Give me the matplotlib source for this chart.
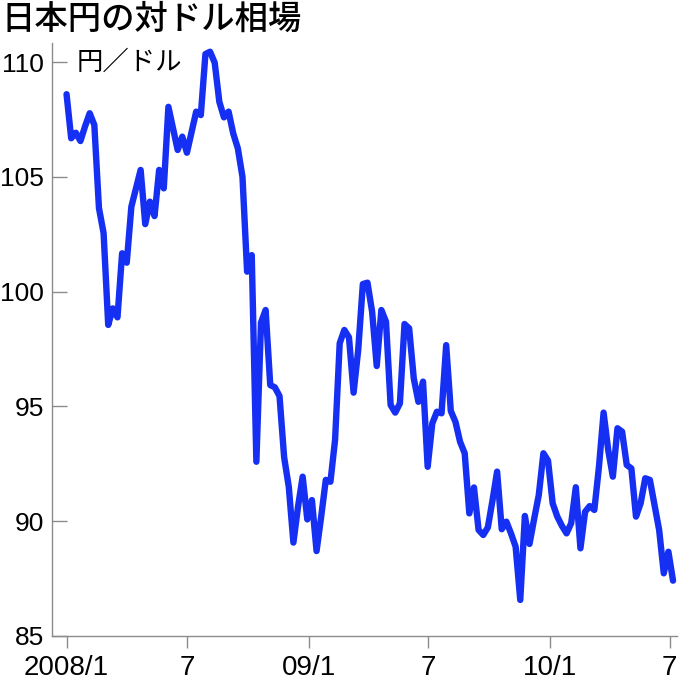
import matplotlib
matplotlib.use("Agg")
import matplotlib.pyplot as plt
import pandas as pd

# weekly yen per dollar
start_date = "2008-01-01"
yen_per_dollar = [
    108.6, 106.68, 106.92, 106.56, 107.2, 107.77, 107.26, 103.64, 102.55, 98.55,
    99.27, 98.88, 101.67, 101.26, 103.70, 104.5, 105.30, 102.94, 103.92, 103.29,
    105.30, 104.50, 108.05, 107.1, 106.17, 106.75, 106.05, 106.95, 107.84, 107.69,
    110.35, 110.45, 109.97, 108.27, 107.59, 107.84, 106.89, 106.24, 105.0, 100.87,
    101.59, 92.59, 98.65, 99.2, 95.93, 95.83, 95.45, 92.78, 91.5, 89.07,
    90.63, 91.94, 90.08, 90.92, 88.7, 90.2, 91.8, 91.72, 93.54, 97.75,
    98.33, 98.01, 95.6, 97.46, 100.33, 100.39, 99.13, 96.76, 99.2, 98.69,
    95.06, 94.73, 95.13, 98.59, 98.40, 96.22, 95.2, 96.08, 92.37, 94.26,
    94.77, 94.70, 97.67, 94.8, 94.33, 93.46, 92.96, 90.34, 91.47, 89.62,
    89.4, 89.73, 90.9, 92.16, 89.65, 89.98, 89.47, 88.89, 86.57, 90.23,
    89.01, 90.1, 91.14, 92.96, 92.64, 90.78, 90.2, 89.8, 89.47, 89.91,
    91.48, 88.82, 90.41, 90.66, 90.49, 92.37, 94.73, 93.1, 91.94, 94.05,
    93.90, 92.45, 92.30, 90.2, 90.78, 91.87, 91.8, 90.7, 89.62, 87.73,
    88.67, 87.41,
]
weeks = pd.date_range(start_date, periods=len(yen_per_dollar), freq="7D")

tick_dates = ["2008-01-01", "2008-07-01", "2009-01-01", "2009-07-01", "2010-01-01", "2010-07-01"]
tick_labels = ["2008/1", "7", "09/1", "7", "10/1", "7"]
y_ticks = [85, 90, 95, 100, 105, 110]

title = "日本円の対ドル相場"
unit = "円／ドル"

num_font = ["Liberation Sans Narrow", "Liberation Sans", "DejaVu Sans"]
jp_font = ["Noto Sans CJK JP", "DejaVu Sans"]
grey = "#8c8c8c"

fig = plt.figure(figsize=(6.8, 6.8), dpi=100)
# axes box in pixels: left 52, right 677, top 43, bottom 636
ax = fig.add_axes([52 / 680, 44 / 680, 625 / 680, 593 / 680])

ax.plot(weeks, yen_per_dollar, color="#1530f2", linewidth=4.6,
        solid_joinstyle="round", solid_capstyle="round", clip_on=False, zorder=3)

ax.set_xlim(pd.Timestamp("2007-12-10"), pd.Timestamp("2010-07-12"))
ax.set_ylim(85, 110.83)

ax.set_xticks([pd.Timestamp(d) for d in tick_dates])
ax.set_xticklabels(tick_labels)
ax.set_yticks(y_ticks)
ax.set_yticklabels([str(v) for v in y_ticks])

for s in ["top", "right"]:
    ax.spines[s].set_visible(False)
for s in ["left", "bottom"]:
    ax.spines[s].set_color(grey)
    ax.spines[s].set_linewidth(1.0)

ax.tick_params(axis="y", direction="in", length=11, width=1.0, color=grey,
               pad=6, labelsize=19, labelcolor="black")
ax.tick_params(axis="x", direction="out", length=8.6, width=1.0, color=grey,
               pad=5, labelsize=20, labelcolor="black")
for lab in ax.get_xticklabels() + ax.get_yticklabels():
    lab.set_family(num_font)

ax.text(25 / 625, 110, unit, transform=ax.get_yaxis_transform(),
        fontsize=19, family=jp_font, va="center", ha="left")

fig.text(0.002, 0.998, title, fontsize=24, family=jp_font, fontweight="medium",
         va="top", ha="left")

fig.savefig("out.png", dpi=100)
